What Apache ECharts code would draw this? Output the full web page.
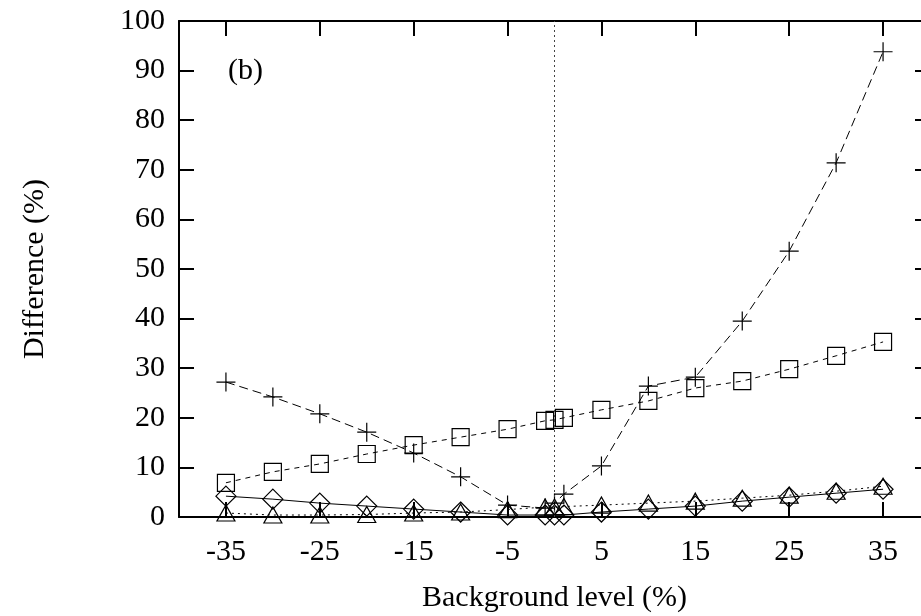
<!DOCTYPE html>
<html><head><meta charset="utf-8">
<script src="https://cdn.jsdelivr.net/npm/echarts@6/dist/echarts.min.js"></script>
<style>html,body{margin:0;padding:0;background:#fff}#c{width:921px;height:616px}</style>
</head><body><div id="c"></div>
<script>
const xValues = [-35,-30,-25,-20,-15,-10,-5,-1,0,1,5,10,15,20,25,30,35];
const plusValues = [27.2,24.2,20.8,17.1,12.9,8.1,2.4,1.8,2.8,4.6,10.3,26.4,28.2,39.5,53.6,71.4,93.8];
const squareValues = [6.9,9.1,10.7,12.7,14.5,16.1,17.7,19.4,19.6,20.0,21.6,23.4,26.0,27.4,29.8,32.5,35.3];
const diamondValues = [4.2,3.6,2.8,2.2,1.6,1.0,0.4,0.4,0.4,0.4,1.0,1.6,2.2,3.2,4.0,4.8,5.6];
const triangleValues = [0.8,0.4,0.4,0.5,0.8,1.0,1.5,2.0,2.0,2.1,2.4,2.8,3.2,3.8,4.4,5.2,6.2];
const xTickValues = [-35,-25,-15,-5,5,15,25,35];
const xLabelValues = [-35,-25,-15,-5,5,15,25,35];
const xName = 'Background level (%)';
const yName = 'Difference (%)';
const panelLabel = '(b)';

const FONT = 'Liberation Serif';
const FS = 30;
const chart = echarts.init(document.getElementById('c'), null, {renderer: 'canvas'});
const pairs = vals => xValues.map((x, i) => [x, vals[i]]);
const axisLine = {show: true, onZero: false, lineStyle: {color: '#000', width: 2}};
const mk = (name, vals, symbol, size, dash) => ({
  name, type: 'line', data: pairs(vals), symbol, symbolSize: size, showAllSymbol: true,
  lineStyle: {color: '#000', width: 1, type: dash},
  itemStyle: {color: 'rgba(0,0,0,0)', borderColor: '#000', borderWidth: 1.2},
  emphasis: {disabled: true}, z: 3
});
const option = {
  animation: false,
  backgroundColor: '#fff',
  grid: {left: 179, top: 21, width: 751, height: 496, containLabel: false, outerBoundsMode: 'none'},
  xAxis: [
    {type: 'value', position: 'bottom', min: -40, max: 40, axisLine,
     axisTick: {show: true, inside: true, length: 15, customValues: xTickValues, lineStyle: {color: '#000', width: 2}},
     axisLabel: {show: true, customValues: xLabelValues, color: '#000', fontFamily: FONT, fontSize: FS, margin: 20},
     splitLine: {show: false},
     name: xName, nameLocation: 'middle', nameGap: 66,
     nameTextStyle: {color: '#000', fontFamily: FONT, fontSize: FS}},
    {type: 'value', position: 'top', min: -40, max: 40, axisLine,
     axisTick: {show: true, inside: true, length: 15, customValues: xTickValues, lineStyle: {color: '#000', width: 2}},
     axisLabel: {show: false}, splitLine: {show: false}}
  ],
  yAxis: [
    {type: 'value', position: 'left', min: 0, max: 100, interval: 10, axisLine,
     axisTick: {show: true, inside: true, length: 15, lineStyle: {color: '#000', width: 2}},
     axisLabel: {color: '#000', fontFamily: FONT, fontSize: FS, margin: 14},
     splitLine: {show: false},
     name: yName, nameLocation: 'middle', nameGap: 129, nameRotate: 90,
     nameTextStyle: {color: '#000', fontFamily: FONT, fontSize: FS}},
    {type: 'value', position: 'right', min: 0, max: 100, interval: 10, axisLine,
     axisTick: {show: true, inside: true, length: 15, lineStyle: {color: '#000', width: 2}},
     axisLabel: {show: false}, splitLine: {show: false}}
  ],
  graphic: [{type: 'text', left: 228, top: 56, style: {text: panelLabel, font: FS + 'px "Liberation Serif"', fill: '#000'}}],
  series: [
    mk('plus', plusValues, 'path://M0,10L20,10M10,0L10,20', 19, [9, 5]),
    Object.assign(mk('square', squareValues, 'rect', 17, [5, 5]), {
      markLine: {silent: true, symbol: 'none', label: {show: false},
        lineStyle: {color: '#444', width: 1, type: [2, 3]}, data: [{xAxis: 0}]}
    }),
    mk('diamond', diamondValues, 'diamond', [20, 20], 'solid'),
    mk('triangle', triangleValues, 'triangle', [18, 16], [2, 4])
  ]
};
chart.setOption(option);
</script>
</body></html>
